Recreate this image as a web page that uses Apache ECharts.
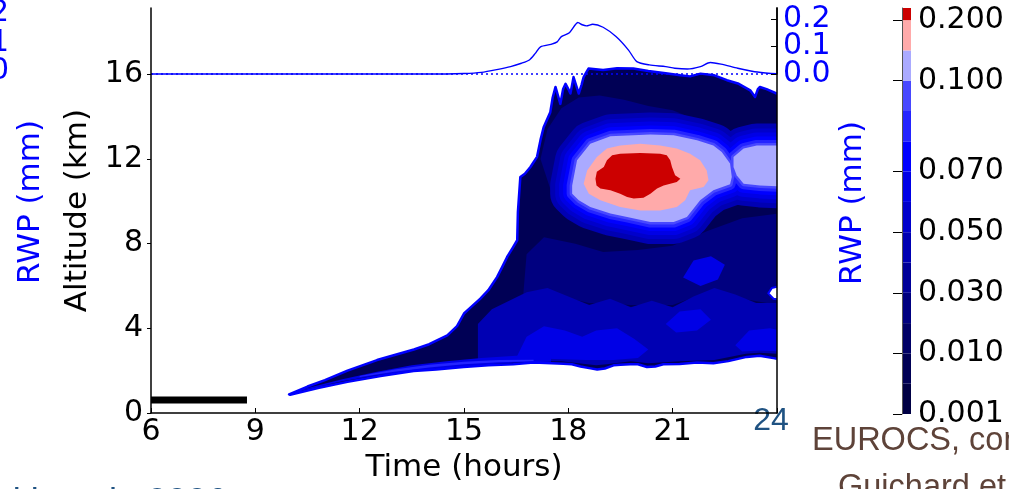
<!DOCTYPE html>
<html>
<head>
<meta charset="utf-8">
<script src="https://cdn.jsdelivr.net/npm/echarts@6.0.0/dist/echarts.min.js"></script>
<style>
html,body{margin:0;padding:0;background:#ffffff;}
#chart{width:1009px;height:489px;}
</style>
</head>
<body>
<div id="chart"></div>
<script>
// ---------- axis ticks ----------
const timeTicks = [6, 9, 12, 15, 18, 21, 24];
const altTicks = [0, 4, 8, 12, 16];
const rwpTicks = [0, 0.1, 0.2];

// ---------- RWP time series (mm) ----------
const rwpTime = [6, 8, 10, 12, 14, 15, 15.5, 15.98, 16.34, 16.65, 16.88, 17.05, 17.2, 17.5, 17.68, 17.8, 18.03, 18.28, 18.4, 18.52, 18.7, 19.0, 19.37, 19.73, 19.97, 20.33, 20.8, 21.06, 21.42, 21.8, 22.08, 22.39, 22.87, 23.36, 23.83, 24];
const rwpValue = [0, 0, 0, 0, 0, 0.002, 0.006, 0.017, 0.027, 0.039, 0.051, 0.075, 0.099, 0.108, 0.117, 0.136, 0.150, 0.187, 0.179, 0.175, 0.181, 0.170, 0.136, 0.087, 0.045, 0.033, 0.027, 0.021, 0.018, 0.027, 0.042, 0.036, 0.021, 0.008, 0.002, 0.0015];

// ---------- colour levels (colorbar) ----------
const cbLevels = [0.001, 0.005, 0.01, 0.02, 0.03, 0.04, 0.05, 0.06, 0.07, 0.08, 0.09, 0.1, 0.15, 0.2];
const cbColors = ['#000044', '#000055', '#000066', '#000080', '#000099', '#0000b3', '#0000cc', '#0000e6', '#0000ff', '#2424ff', '#4848ff', '#aaaaff', '#ffaaaa', '#cc0000'];
const cbTickLabels = ['0.001', '0.010', '0.030', '0.050', '0.070', '0.100', '0.200'];

// ---------- black bar (time, altitude km) ----------
const blackBar = [[6, 0.61], [8.76, 0.61]];

// ---------- contour regions (time h, altitude km) ----------
const cloudTop = [[9.97,0.88],[10.5,1.25],[11.0,1.55],[11.65,2.0],[12.5,2.5],[13.56,3.0],[14.0,3.25],[14.52,3.67],[14.8,4.1],[15.0,4.7],[15.2,5.0],[15.47,5.4],[15.7,5.8],[15.95,6.42],[16.1,6.9],[16.24,7.37],[16.4,7.8],[16.53,8.16],[16.55,9.5],[16.62,11.15],[16.75,11.3],[16.91,11.62],[17.1,12.1],[17.2,12.9],[17.29,13.5],[17.48,14.2],[17.55,14.9],[17.63,15.4],[17.7,15.0],[17.77,14.6],[17.85,15.3],[17.92,15.55],[18.0,15.3],[18.06,15.09],[18.12,15.6],[18.15,15.87],[18.22,15.5],[18.3,15.09],[18.38,15.5],[18.44,15.87],[18.52,16.1],[18.58,16.27],[19.0,16.2],[19.4,16.28],[19.87,16.27],[20.3,16.15],[20.8,16.05],[21.22,15.95],[21.5,15.9],[21.8,16.03],[22.2,15.95],[22.56,15.72],[22.9,15.55],[23.23,15.24],[23.37,14.93],[23.45,15.3],[23.51,15.4],[23.7,15.3],[23.99,15.09],[24.4,15.0]];
const cloudBase = [[24.4,2.58],[23.94,2.58],[23.5,2.7],[23.13,2.65],[22.6,2.45],[22.17,2.35],[21.7,2.38],[21.2,2.32],[20.73,2.3],[20.5,2.2],[20.26,2.17],[20.0,2.3],[19.78,2.3],[19.5,2.28],[19.3,2.25],[19.05,2.1],[18.83,2.05],[18.6,2.12],[18.35,2.2],[18.1,2.3],[17.86,2.33],[17.0,2.38],[16.42,2.3],[15.7,2.25],[14.99,2.17],[14.2,2.05],[13.55,1.98],[12.6,1.75],[11.65,1.47],[10.8,1.18],[10.0,0.86]];
const midBand = [[16.7,5.5],[16.8,7.5],[17.3,8.3],[18.2,8.0],[19.0,7.6],[20.0,7.7],[21.0,7.9],[22.0,8.6],[23.0,9.2],[24.4,9.5],[24.4,5.0],[23.0,5.4],[22.0,5.7],[21.0,5.1],[19.8,5.1],[18.6,5.2],[17.5,5.6]];
const upperBand = [[17.2,12.0],[17.4,13.4],[17.8,14.4],[18.3,14.9],[18.9,15.0],[19.6,14.8],[20.3,14.5],[21.0,14.3],[21.6,13.9],[21.6,12.5],[20.0,12.5],[18.5,11.0],[17.5,10.5]];
const lowBand = [[15.4,4.2],[15.8,4.9],[16.3,5.3],[16.8,5.7],[17.4,5.9],[18.0,5.5],[18.6,5.1],[19.2,5.4],[19.8,5.0],[20.4,5.3],[21.0,5.0],[21.6,5.5],[22.2,5.9],[22.8,5.6],[23.4,5.2],[24.4,5.2],[24.4,2.75],[23.5,2.85],[23.1,2.8],[22.2,2.5],[21.2,2.45],[20.3,2.35],[19.8,2.45],[19.1,2.3],[18.8,2.25],[18.3,2.35],[17.8,2.45],[16.5,2.45],[15.4,2.35]];
const lowPatchA = [[16.5,2.6],[16.8,3.6],[17.3,4.1],[17.9,3.9],[18.4,3.6],[18.8,3.9],[19.4,4.0],[19.9,3.5],[20.3,3.0],[20.0,2.6],[19.3,2.5],[18.5,2.5],[17.6,2.55]];
const lowPatchB = [[20.8,4.2],[21.2,4.8],[21.8,4.9],[22.1,4.4],[21.7,3.9],[21.1,3.8]];
const lowPatchC = [[21.3,6.4],[21.6,7.2],[22.1,7.4],[22.5,7.0],[22.3,6.3],[21.8,6.0]];
const lowPatchD = [[22.8,3.2],[23.2,3.9],[23.8,4.0],[24.4,3.8],[24.4,2.9],[23.5,2.95],[23.0,2.9]];
const baseBand = [[10.3,1.1],[11.5,1.6],[12.5,1.95],[13.5,2.25],[14.5,2.45],[15.5,2.6],[16.5,2.7],[17.5,2.7],[17.5,2.42],[16.5,2.38],[15.5,2.28],[14.5,2.12],[13.5,2.0],[12.5,1.78],[11.5,1.5],[10.3,1.05]];
const baseStripe = [[12.0,1.75],[13.0,2.05],[14.0,2.28],[15.0,2.42],[16.0,2.5],[17.0,2.52],[17.0,2.44],[16.0,2.4],[15.0,2.3],[14.0,2.15],[13.0,1.95],[12.0,1.7]];
const lightBlueLeft = [[18.11,10.75],[18.25,11.94],[18.63,12.72],[19.21,13.07],[20.36,13.16],[21.03,13.12],[21.7,12.88],[22.17,12.64],[22.41,12.33],[22.65,11.78],[22.7,11.15],[22.65,10.8],[22.17,10.52],[21.79,10.05],[21.41,9.26],[21.03,9.02],[20.36,9.02],[19.69,9.26],[19.21,9.42],[18.63,9.73],[18.3,10.05],[18.11,10.36]];
const lightBlueRight = [[22.75,12.09],[23.04,12.49],[23.42,12.64],[24.4,12.64],[24.4,10.68],[23.51,10.75],[23.04,10.83],[22.84,11.23],[22.75,11.62]];
const pinkCore = [[18.44,10.83],[18.54,11.46],[18.82,12.09],[19.11,12.49],[19.49,12.64],[20.07,12.72],[20.64,12.64],[21.12,12.49],[21.5,12.25],[21.79,11.94],[21.98,11.46],[22.03,10.99],[21.89,10.68],[21.5,10.52],[21.36,10.05],[21.12,9.73],[20.64,9.57],[20.07,9.57],[19.49,9.73],[18.92,10.05],[18.59,10.36]];
const redCore = [[18.78,11.07],[18.82,11.39],[19.02,11.62],[19.11,11.94],[19.26,12.17],[19.49,12.25],[20.07,12.28],[20.64,12.25],[20.83,12.17],[20.93,11.94],[20.98,11.62],[21.07,11.23],[21.22,11.07],[21.12,10.91],[20.93,10.83],[20.74,10.75],[20.55,10.6],[20.36,10.36],[20.16,10.17],[19.88,10.13],[19.69,10.2],[19.49,10.36],[19.21,10.52],[18.92,10.6],[18.81,10.75]];
const clearNotch = [[23.75,5.65],[23.85,5.9],[24.1,6.0],[24.1,5.35],[23.9,5.4]];

const cloudEnvelope = cloudTop.concat(cloudBase);

// drawing layers (styles only; geometry comes from the arrays above)
const haloWidths = [44, 34, 26, 18, 11, 5];
const haloLevels = [5, 6, 7, 8, 9, 10];
const layers = [
  {polys: [cloudEnvelope], fill: cbColors[1]},
  {polys: [midBand, upperBand], fill: cbColors[3]},
  {polys: [lowBand], fill: cbColors[5]},
  {polys: [lowPatchA, lowPatchB, lowPatchC, lowPatchD], fill: cbColors[7]},
  {polys: [baseBand], fill: cbColors[7]},
  {polys: [baseStripe], fill: cbColors[9]}
];
haloWidths.forEach((w, i) => layers.push({polys: [lightBlueLeft, lightBlueRight], fill: cbColors[haloLevels[i]], stroke: cbColors[haloLevels[i]], lw: w}));
layers.push({polys: [lightBlueLeft, lightBlueRight], fill: cbColors[11]});
layers.push({polys: [pinkCore], fill: cbColors[12]});
layers.push({polys: [redCore], fill: cbColors[13]});
layers.push({polys: [clearNotch], fill: '#ffffff', stroke: '#0000ff', lw: 2});
layers.push({polys: [cloudEnvelope], fill: 'none', stroke: '#0000ff', lw: 2.5});

const FONT = 'DejaVu Sans';
const TICK = 30, NAME = 31;
const chart = echarts.init(document.getElementById('chart'), null, {renderer: 'canvas'});

const fieldSeries = layers.map((L, k) => ({
  type: 'custom',
  coordinateSystem: 'cartesian2d',
  xAxisIndex: 0, yAxisIndex: 0,
  clip: true, silent: true, z: 2 + k * 0.01,
  data: [L.polys[0][0]],
  renderItem: function (params, api) {
    return {
      type: 'group',
      children: L.polys.map(poly => ({
        type: 'polygon',
        shape: {points: poly.map(p => api.coord(p))},
        style: {fill: L.fill, stroke: L.stroke || null, lineWidth: L.lw || 0, lineJoin: 'round'}
      }))
    };
  }
}));

const cbData = cbColors.map((c, i) => [0, i, i < cbLevels.length - 1 ? i + 1 : i + 0.4]);
const cbTickPos = cbTickLabels.map(l => cbLevels.indexOf(parseFloat(l)));
// RWP tick labels are split over two right-hand axes so that the tightly spaced labels all show
const rwpLabelsOuter = rwpTicks.filter((v, i) => i % 2 === 0);
const rwpLabelsInner = rwpTicks.filter((v, i) => i % 2 === 1);
const rwpLabelStyle = {formatter: v => v.toFixed(1), fontFamily: FONT, fontSize: TICK, color: '#0000ff', margin: 6};

const option = {
  animation: false,
  backgroundColor: '#ffffff',
  grid: [
    {left: 151, top: 8, width: 626, height: 405},
    {left: 151, top: 8, width: 626, height: 66},
    {left: 902, top: 8, width: 9, height: 406}
  ],
  xAxis: [
    {gridIndex: 0, type: 'value', min: 6, max: 24, interval: 3, z: 50,
     name: 'Time (hours)', nameLocation: 'middle', nameGap: 39,
     nameTextStyle: {fontFamily: FONT, fontSize: NAME, color: '#000'},
     axisLine: {show: true, lineStyle: {color: '#000', width: 1.5}},
     axisTick: {show: true, inside: true, length: 5, customValues: timeTicks, lineStyle: {color: '#000', width: 1}},
     axisLabel: {customValues: timeTicks.slice(0, -1), fontFamily: FONT, fontSize: TICK, color: '#000', margin: 4},
     splitLine: {show: false}},
    {gridIndex: 1, type: 'value', min: 6, max: 24, show: false},
    {gridIndex: 2, type: 'value', min: 0, max: 1, show: false}
  ],
  yAxis: [
    {gridIndex: 0, type: 'value', min: 0, max: 19.13, position: 'left', z: 50,
     name: 'Altitude (km)', nameLocation: 'middle', nameGap: 56, nameRotate: 90,
     nameTextStyle: {fontFamily: FONT, fontSize: NAME, color: '#000'},
     axisLine: {show: true, lineStyle: {color: '#000', width: 1.5}},
     axisTick: {show: true, inside: false, length: 4, customValues: altTicks, lineStyle: {color: '#000'}},
     axisLabel: {customValues: altTicks, fontFamily: FONT, fontSize: TICK, color: '#000', margin: 8},
     splitLine: {show: false}},
    {gridIndex: 1, type: 'value', min: 0, max: 0.24, position: 'right', z: 50,
     axisLine: {show: true, lineStyle: {color: '#000', width: 1.5}},
     axisTick: {show: true, inside: true, length: 6, customValues: rwpTicks, lineStyle: {color: '#000'}},
     axisLabel: Object.assign({customValues: rwpLabelsOuter}, rwpLabelStyle),
     splitLine: {show: false}},
    {gridIndex: 0, type: 'value', min: 0, max: 19.13, position: 'right', z: 50,
     axisLine: {show: true, lineStyle: {color: '#000', width: 1.5}},
     axisTick: {show: false}, axisLabel: {show: false}, splitLine: {show: false}},
    {gridIndex: 2, type: 'value', min: 0, max: 13.4, position: 'right', z: 50,
     axisLine: {show: true, lineStyle: {color: '#555', width: 1}},
     axisTick: {show: true, inside: true, length: 9, customValues: cbTickPos, lineStyle: {color: '#000', width: 1}},
     axisLabel: {customValues: cbTickPos, formatter: v => cbTickLabels[cbTickPos.indexOf(v)], fontFamily: FONT, fontSize: TICK, color: '#000', margin: 7, hideOverlap: false},
     splitLine: {show: false}},
    {gridIndex: 1, type: 'value', min: 0, max: 0.24, position: 'right', z: 50,
     axisLine: {show: false}, axisTick: {show: false},
     axisLabel: Object.assign({customValues: rwpLabelsInner}, rwpLabelStyle),
     splitLine: {show: false}}
  ],
  series: fieldSeries.concat([
    {type: 'line', xAxisIndex: 0, yAxisIndex: 0, data: blackBar, showSymbol: false, silent: true, z: 40,
     lineStyle: {color: '#000', width: 7, cap: 'butt'}},
    {type: 'line', xAxisIndex: 1, yAxisIndex: 1, data: rwpTime.map((t, i) => [t, rwpValue[i]]),
     showSymbol: false, smooth: 0.25, silent: true, z: 30, clip: false,
     lineStyle: {color: '#0000ff', width: 1.4},
     markLine: {symbol: 'none', silent: true, label: {show: false},
       lineStyle: {color: '#0000ff', type: [2, 3], width: 1.5}, data: [{yAxis: 0}]}},
    {type: 'custom', coordinateSystem: 'cartesian2d', xAxisIndex: 2, yAxisIndex: 3, silent: true, z: 5,
     data: cbData, encode: {x: 0, y: [1, 2]},
     renderItem: function (params, api) {
       const p0 = api.coord([0, api.value(1)]);
       const p1 = api.coord([1, api.value(2)]);
       return {type: 'rect', shape: {x: p0[0], y: p1[1], width: p1[0] - p0[0], height: p0[1] - p1[1]},
               style: {fill: cbColors[params.dataIndex]}};
     }}
  ]),
  graphic: [
    {type: 'text', x: 31, y: 202, rotation: Math.PI / 2, style: {text: 'RWP (mm)', fontFamily: FONT, fontSize: NAME, fill: '#0000ff', align: 'center', verticalAlign: 'middle'}},
    {type: 'text', x: 853, y: 203, rotation: Math.PI / 2, style: {text: 'RWP (mm)', fontFamily: FONT, fontSize: NAME, fill: '#0000ff', align: 'center', verticalAlign: 'middle'}},
    {type: 'text', x: 9, y: 13, style: {text: '0.2', fontFamily: FONT, fontSize: TICK, fill: '#0000ff', align: 'right', verticalAlign: 'middle'}},
    {type: 'text', x: 9, y: 43, style: {text: '0.1', fontFamily: FONT, fontSize: TICK, fill: '#0000ff', align: 'right', verticalAlign: 'middle'}},
    {type: 'text', x: 9, y: 71, style: {text: '0.0', fontFamily: FONT, fontSize: TICK, fill: '#0000ff', align: 'right', verticalAlign: 'middle'}},
    {type: 'text', x: 771, y: 421, style: {text: '24', fontFamily: 'Liberation Sans', fontSize: 32, fill: '#1f5282', align: 'center', verticalAlign: 'middle'}},
    {type: 'text', x: 812, y: 441, style: {text: 'EUROCS, continental', fontFamily: 'Liberation Sans', fontSize: 32.5, fill: '#5e4339', align: 'left', verticalAlign: 'middle'}},
    {type: 'text', x: 838, y: 488, style: {text: 'Guichard et al. 2004', fontFamily: 'Liberation Sans', fontSize: 32.5, fill: '#5e4339', align: 'left', verticalAlign: 'middle'}},
    {type: 'text', x: 227, y: 504, style: {text: 'Grabowski et al., 2006', fontFamily: 'Liberation Sans', fontSize: 36, fill: '#1f5282', align: 'right', verticalAlign: 'middle'}}
  ]
};
chart.setOption(option);
</script>
</body>
</html>
